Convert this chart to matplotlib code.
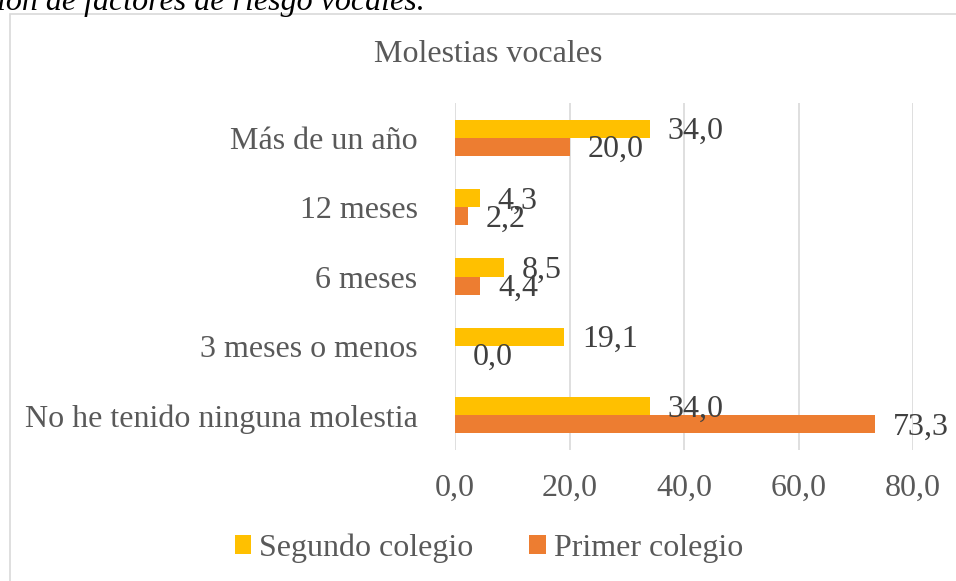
import numpy as np
import matplotlib.pyplot as plt
from matplotlib.patches import Rectangle

categorias = ['No he tenido ninguna molestia', '3 meses o menos', '6 meses',
              '12 meses', 'Más de un año']
segundo_colegio = [34.0, 19.1, 8.5, 4.3, 34.0]
primer_colegio = [73.3, 0.0, 4.4, 2.2, 20.0]
ticks_x = [0, 20, 40, 60, 80]

amarillo = '#FFC000'
naranja = '#ED7D31'
gris_texto = '#595959'
gris_label = '#404040'

plt.rcParams['font.family'] = ['Liberation Serif', 'DejaVu Serif']

fig = plt.figure(figsize=(9.56, 5.81), dpi=100)

# marco del gráfico y leyenda de la tabla cortada arriba
fig.patches.append(Rectangle((10 / 956, -0.01), 1.0, 1 - 14 / 581 + 0.01,
                             transform=fig.transFigure, fill=False,
                             edgecolor='#D9D9D9', linewidth=1.2))
fig.text(-0.003, 1 - 10 / 581, 'ión de factores de riesgo vocales.',
         fontsize=23, style='italic', color='black', va='baseline', ha='left')

ax = fig.add_axes([455 / 956, 1 - 450 / 581, 458 / 956, 347 / 581])

y = np.arange(len(categorias))
alto = 0.26
b1 = ax.barh(y + alto / 2, segundo_colegio, height=alto, color=amarillo,
             label='Segundo colegio')
b2 = ax.barh(y - alto / 2, primer_colegio, height=alto, color=naranja,
             label='Primer colegio')

for barras, valores in [(b1, segundo_colegio), (b2, primer_colegio)]:
    for barra, v in zip(barras, valores):
        ax.annotate(f'{v:.1f}'.replace('.', ','),
                    (barra.get_width(), barra.get_y() + barra.get_height() / 2),
                    xytext=(13, -2), textcoords='offset points',
                    ha='left', va='center', fontsize=23, color=gris_label)

ax.set_xlim(0, 80)
ax.set_ylim(-0.5, 4.5)
ax.set_xticks(ticks_x)
ax.set_xticklabels([f'{t:.1f}'.replace('.', ',') for t in ticks_x])
ax.set_yticks(y)
ax.set_yticklabels(categorias)
ax.tick_params(axis='x', length=0, pad=17, labelsize=23, labelcolor=gris_texto)
ax.tick_params(axis='y', length=0, pad=27, labelsize=23, labelcolor=gris_texto)
ax.grid(axis='x', color='#D9D9D9', linewidth=1.2)
ax.set_axisbelow(True)
for s in ax.spines.values():
    s.set_visible(False)

fig.text(488 / 956, 1 - 55 / 581, 'Molestias vocales', ha='center', va='center',
         fontsize=23, color=gris_texto)

fig.legend(handles=[b1, b2], loc='center', bbox_to_anchor=(489 / 956, 1 - 548 / 581),
           ncol=2, frameon=False, fontsize=23, labelcolor=gris_texto,
           handlelength=0.52, handleheight=0.52, handletextpad=0.25, columnspacing=1.75)

fig.savefig('out.png', dpi=100)
